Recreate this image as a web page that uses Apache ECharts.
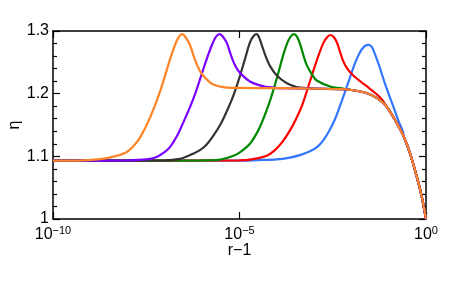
<!DOCTYPE html>
<html>
<head>
<meta charset="utf-8">
<script src="https://cdn.jsdelivr.net/npm/echarts@6/dist/echarts.min.js"></script>
<style>
html,body{margin:0;padding:0;background:#fff;}
#c{width:463px;height:286px;}
</style>
</head>
<body>
<div id="c"></div>
<script>
// x values are stored as log10(r-1); y values are eta
var xTickExponents = [-10, -5, 0];
var yTicks = [1, 1.1, 1.2, 1.3];

// common tail (all curves overlap here)
var tail = [[-4.0,1.2090],[-3.0,1.2080],[-2.3,1.2072],[-2.0,1.2058],[-1.6,1.2010],[-1.3,1.1925],
  [-1.05,1.1790],[-0.8,1.1550],[-0.6,1.1320],[-0.43,1.1050],[-0.25,1.0680],[-0.115,1.0360],[0,1.0]];

var orange = [[-10,1.093],[-9.2,1.0935],[-8.74,1.0955],[-8.38,1.0995],[-8.02,1.107],[-7.76,1.122],
  [-7.6,1.137],[-7.45,1.155],[-7.3,1.176],[-7.15,1.200],[-7.0,1.228],[-6.85,1.257],[-6.7,1.282],
  [-6.62,1.291],[-6.55,1.295],[-6.47,1.292],[-6.33,1.278],[-6.2,1.255],[-6.06,1.236],[-5.9,1.224],
  [-5.7,1.2145],[-5.4,1.2100],[-5.0,1.2092],[-4.5,1.2090]];

var purple = [[-10,1.093],[-8.0,1.0935],[-7.5,1.095],[-7.22,1.099],[-7.0,1.107],[-6.86,1.115],
  [-6.68,1.132],[-6.5,1.155],[-6.33,1.178],[-6.17,1.203],[-6.02,1.230],[-5.88,1.255],[-5.75,1.276],
  [-5.64,1.290],[-5.54,1.295],[-5.46,1.292],[-5.34,1.281],[-5.25,1.265],[-5.17,1.252],[-5.05,1.238],
  [-4.9,1.228],[-4.72,1.2195],[-4.5,1.214],[-4.3,1.211],[-4.05,1.2095]];

var black = [[-10,1.093],[-7.0,1.0935],[-6.6,1.096],[-6.33,1.102],[-6.06,1.110],[-5.88,1.119],
  [-5.7,1.133],[-5.5,1.152],[-5.34,1.172],[-5.17,1.196],[-5.0,1.226],[-4.85,1.256],[-4.72,1.282],
  [-4.62,1.292],[-4.54,1.295],[-4.47,1.289],[-4.405,1.278],[-4.3,1.260],[-4.18,1.244],[-4.0,1.229],
  [-3.74,1.217],[-3.47,1.2105],[-3.2,1.2088]];

var green = [[-10,1.093],[-6.0,1.0935],[-5.5,1.095],[-5.2,1.100],[-5.0,1.106],[-4.72,1.120],
  [-4.5,1.141],[-4.36,1.160],[-4.22,1.182],[-4.09,1.206],[-3.95,1.235],[-3.82,1.263],[-3.69,1.285],
  [-3.6,1.293],[-3.54,1.295],[-3.46,1.291],[-3.38,1.280],[-3.28,1.260],[-3.2,1.246],[-3.05,1.230],
  [-2.93,1.221],[-2.57,1.2115],[-2.2,1.2078]];

var red = [[-10,1.093],[-5.0,1.0935],[-4.6,1.096],[-4.27,1.101],[-4.05,1.110],[-3.85,1.123],
  [-3.65,1.141],[-3.48,1.160],[-3.33,1.180],[-3.2,1.203],[-3.05,1.231],[-2.9,1.258],[-2.75,1.281],
  [-2.64,1.291],[-2.55,1.2936],[-2.47,1.290],[-2.39,1.282],[-2.3,1.266],[-2.22,1.252],[-2.1,1.239],
  [-1.95,1.229],[-1.75,1.219],[-1.59,1.212],[-1.456,1.2055],[-1.32,1.199],[-1.2,1.192]];

var blue = [[-10,1.093],[-5.0,1.093],[-4.5,1.094],[-4.0,1.095],[-3.65,1.098],[-3.38,1.102],
  [-3.11,1.108],[-2.9,1.116],[-2.75,1.126],[-2.6,1.140],[-2.45,1.158],[-2.32,1.178],[-2.2,1.198],
  [-2.06,1.222],[-1.92,1.246],[-1.78,1.265],[-1.66,1.275],[-1.55,1.278],[-1.46,1.275],[-1.36,1.262],
  [-1.23,1.240],[-1.1,1.216],[-0.98,1.196],[-0.88,1.180],[-0.74,1.157],[-0.61,1.138]];

var curves = [
  {name:'blue', pts: blue, color:'#3377ff'},
  {name:'red', pts: red, color:'#ff0000'},
  {name:'green', pts: green, color:'#008800'},
  {name:'black', pts: black, color:'#333333'},
  {name:'purple', pts: purple, color:'#7b00ff'},
  {name:'orange', pts: orange, color:'#ff8426'}
];

function build(pts){
  var last = pts[pts.length-1][0];
  var all = pts.concat(tail.filter(function(p){return p[0] > last;}));
  return all.map(function(p){return [Math.pow(10,p[0]), p[1]];});
}

var chart = echarts.init(document.getElementById('c'), null, {renderer:'canvas'});
var FONT = 'Liberation Sans';
var axisLine = {show:true, lineStyle:{color:'#000', width:1.5}};
var xFmt = function(v){
  var e = Math.round(Math.log10(v));
  var s = e < 0 ? '\u2212' + Math.abs(e) : String(e);
  return '{b|10}{e|' + s + '}';
};
var option = {
  animation:false,
  backgroundColor:'#fff',
  grid:{left:53, right:37, top:31, bottom:67, containLabel:false, outerBoundsMode:'none'},
  xAxis:[{
    type:'log', logBase:10, min:1e-10, max:1, interval:5,
    name:'r\u22121', nameLocation:'middle', nameGap:24, nameMoveOverlap:false,
    nameTextStyle:{fontFamily:FONT, fontSize:16, color:'#000'},
    axisLine:axisLine,
    axisTick:{show:true, inside:true, length:7, lineStyle:{color:'#000', width:1.2}},
    minorTick:{show:false},
    splitLine:{show:false},
    axisLabel:{show:true, margin:6, formatter:xFmt, color:'#000',
      rich:{b:{fontFamily:FONT, fontSize:16, color:'#000'},
            e:{fontFamily:FONT, fontSize:11, color:'#000', padding:[0,0,9,0]}}}
  },{
    type:'log', logBase:10, min:1e-10, max:1, interval:5, position:'top',
    axisLine:axisLine,
    axisTick:{show:true, inside:true, length:7, lineStyle:{color:'#000', width:1.2}},
    splitLine:{show:false}, axisLabel:{show:false}
  }],
  yAxis:[{
    type:'value', min:1, max:1.3, interval:0.1,
    name:'\u03b7', nameLocation:'middle', nameGap:30, nameRotate:90, nameMoveOverlap:false,
    nameTextStyle:{fontFamily:FONT, fontSize:16, color:'#000'},
    axisLine:axisLine,
    axisTick:{show:true, inside:true, length:7, lineStyle:{color:'#000', width:1.2}},
    minorTick:{show:true, splitNumber:5, length:4, lineStyle:{color:'#000', width:1.2}},
    splitLine:{show:false},
    axisLabel:{fontFamily:FONT, fontSize:16, color:'#000', margin:4,
      formatter:function(v){ return Math.abs(v-1)<1e-9 ? '1' : v.toFixed(1); }}
  },{
    type:'value', min:1, max:1.3, interval:0.1, position:'right',
    axisLine:axisLine,
    axisTick:{show:true, inside:true, length:7, lineStyle:{color:'#000', width:1.2}},
    minorTick:{show:true, splitNumber:5, length:4, lineStyle:{color:'#000', width:1.2}},
    splitLine:{show:false}, axisLabel:{show:false}
  }],
  series: curves.map(function(c){
    return {
      name:c.name, type:'line', xAxisIndex:0, yAxisIndex:0,
      data: build(c.pts), showSymbol:false, smooth:0.3, sampling:null,
      lineStyle:{color:c.color, width:2.2}, itemStyle:{color:c.color}
    };
  })
};
chart.setOption(option);
</script>
</body>
</html>
